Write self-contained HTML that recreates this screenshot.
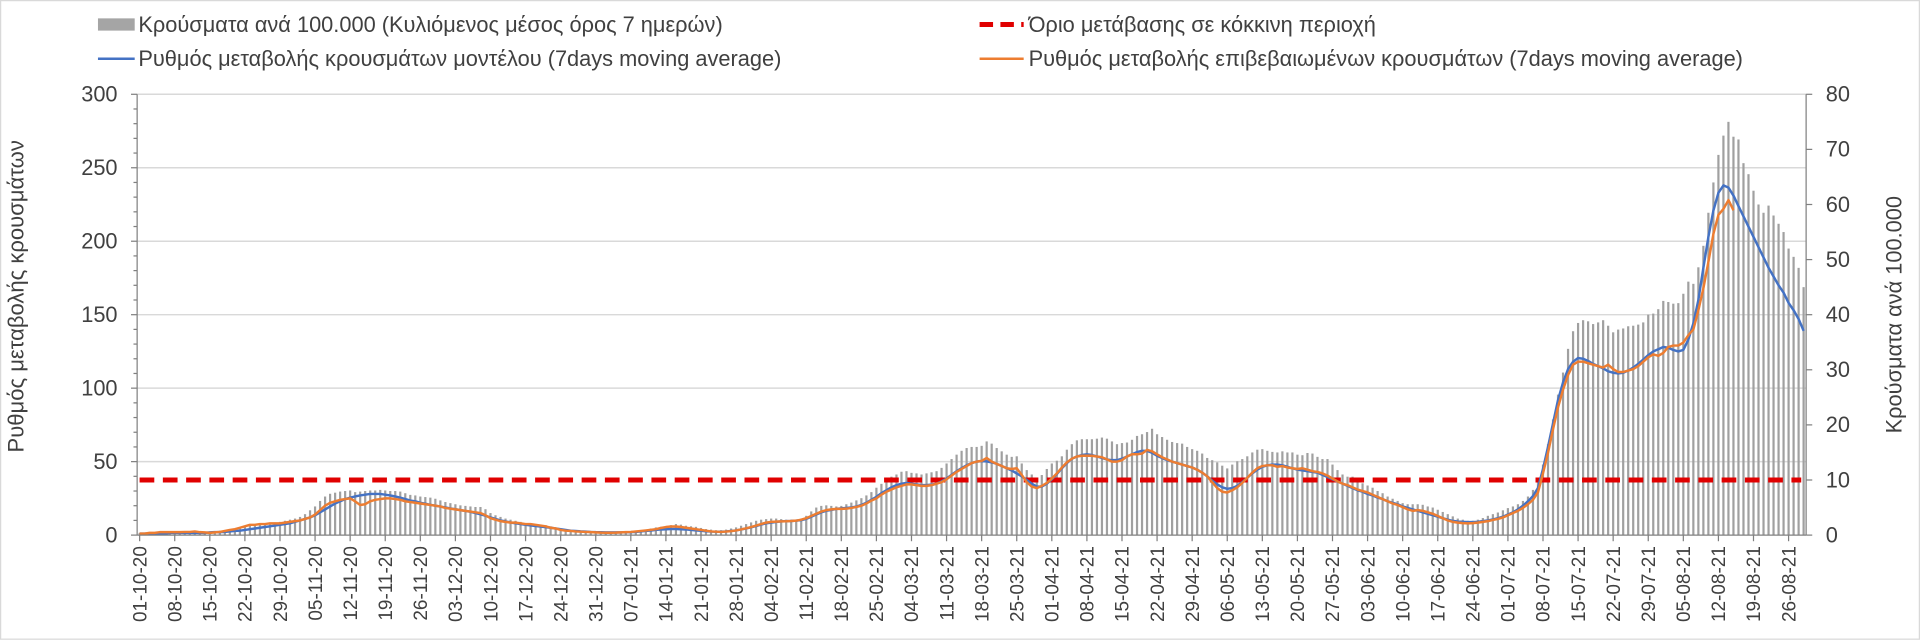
<!DOCTYPE html>
<html><head><meta charset="utf-8">
<style>
html,body{margin:0;padding:0;background:#fff;}
#wrap{position:relative;width:1920px;height:640px;overflow:hidden;font-family:"Liberation Sans",sans-serif;}
svg text{font-family:"Liberation Sans","DejaVu Sans",sans-serif;fill:#404040;}
</style></head>
<body>
<div id="wrap">
<svg id="chart" width="1920" height="640" viewBox="0 0 1568 522.67" preserveAspectRatio="none" xmlns="http://www.w3.org/2000/svg">
<rect x="0.5" y="0.5" width="1567" height="521.5" fill="#fff" stroke="#d9d9d9"/>
<g>
 <g><rect x="80" y="15" width="30" height="10" fill="#a5a5a5"/><text x="113" y="26" font-size="17.8">Κρούσματα ανά 100.000 (Κυλιόμενος μέσος όρος 7 ημερών)</text></g>
 <g><line x1="800" y1="20" x2="836" y2="20" stroke="#e00000" stroke-width="4" stroke-dasharray="11,6"/><text x="840" y="26" font-size="17.8">Όριο μετάβασης σε κόκκινη περιοχή</text></g>
 <g><line x1="80" y1="48" x2="110" y2="48" stroke="#4472c4" stroke-width="2"/><text x="113" y="54" font-size="17.8">Ρυθμός μεταβολής κρουσμάτων μοντέλου (7days moving average)</text></g>
 <g><line x1="800" y1="48" x2="836" y2="48" stroke="#ed7d31" stroke-width="2"/><text x="840" y="54" font-size="17.8">Ρυθμός μεταβολής επιβεβαιωμένων κρουσμάτων (7days moving average)</text></g>
</g>
<g id="grid"></g><g id="bars"></g><g id="lines"></g><g id="axes"></g>
<text transform="translate(19,242) rotate(-90)" text-anchor="middle" font-size="18">Ρυθμός μεταβολής κρουσμάτων</text>
<text transform="translate(1553,257) rotate(-90)" text-anchor="middle" font-size="17.8">Κρούσματα ανά 100.000</text>
</svg>
</div>
<script>
const startDate = [2020, 10, 1];
const leftTicks = [0,50,100,150,200,250,300];
const rightTicks = [0,10,20,30,40,50,60,70,80];
const threshold = [37.5];
const cases = [
.4,.4,.5,.5,.5,.6,.6, .6,.7,.7,.7,.7,.6,.6, .6,.7,.8,.9,1.0,1.1,1.3, 1.5,1.7,1.9,2.0,2.1,2.2,2.3,
2.4,2.6,2.8,3.0,3.3,3.8,4.5, 5.2,6.2,7.0,7.5,7.7,7.9,8.0, 8.1,7.8,7.9,8.0,8.1,8.1,8.2, 8.1,8.0,8.0,7.9,7.6,7.3,7.2,
7.0,6.9,6.8,6.6,6.3,6.0,5.8, 5.6,5.4,5.3,5.2,5.1,5.1,4.7, 4.0,3.6,3.3,3.0,2.8,2.6,2.4, 2.2,2.1,2.0,1.9,1.8,1.6,1.3,
1.0,.9,.8,.7,.6,.6,.5, .5,.4,.4,.4,.4,.5,.5, .6,.7,.8,1.0,1.2,1.4,1.5, 1.6,1.8,2.0,1.9,1.7,1.6,1.5,
1.3,1.1,1.0,.9,.9,1.0,1.2, 1.4,1.7,2.0,2.3,2.6,2.8,2.9, 3.0,3.0,2.9,2.8,2.8,2.8,3.0, 3.5,4.3,5.0,5.3,5.4,5.3,5.2,
5.3,5.6,5.9,6.3,6.7,7.2,7.8, 8.6,9.3,10.0,10.6,11.0,11.5,11.6, 11.3,11.2,11.0,11.2,11.4,11.6,12.2, 13.0,13.8,14.6,15.3,15.8,16.0,16.0,
16.2,17.0,16.6,15.8,15.2,14.6,14.2, 14.3,13.0,11.8,11.0,10.3,10.9,12.0, 13.0,13.5,14.3,15.5,16.5,17.2,17.4, 17.4,17.4,17.5,17.7,17.5,17.0,16.5,
16.7,16.8,17.3,18.0,18.3,18.7,19.3, 18.3,17.8,17.3,16.9,16.7,16.6,16.0, 15.6,15.3,14.8,14.0,13.6,13.2,12.6, 12.1,12.8,13.4,13.8,14.3,15.0,15.5,
15.6,15.3,15.1,15.0,15.2,15.0,15.0, 14.6,14.5,14.9,14.8,14.2,13.8,13.8, 12.8,11.8,11.0,10.6,10.6,9.9,9.4, 9.0,8.6,8.0,7.6,7.0,6.6,6.2,
5.8,5.6,5.6,5.6,5.5,5.2,5.0, 4.6,4.2,3.8,3.4,3.0,2.8,2.6, 2.6,2.8,3.1,3.5,3.8,4.1,4.5, 4.9,5.2,5.6,6.2,7.0,8.2,10.0,
12.8,16.5,21.0,25.5,29.5,33.8,37.0, 38.5,39.0,38.8,38.3,38.6,39.0,38.0, 36.8,37.3,37.5,37.9,38.0,38.2,38.6, 40.0,40.2,41.0,42.5,42.3,42.0,42.1,
43.8,46.0,45.6,48.6,52.5,58.5,64.0, 69.0,72.5,75.0,72.3,71.8,67.5,65.5, 62.5,60.0,58.5,59.8,58.0,56.5,55.0, 52.0,50.5,48.5,45.0];
const modelRate = [
1,1,1,1,1,1,1.5, 1.5,1.5,1.5,1.5,1.5,1.5,1.5, 1.8,2,2,2.2,2.5,2.8,3, 3.5,4,4.5,5,5.5,6,6.5,
7,7.5,8,9,10,11,12, 13.5,15.5,17.5,19.5,21.5,23,24.5, 25.5,26.3,27,27.5,28,28,28, 27.5,27,26.3,25.5,24.5,23.5,23,
22,21.3,20.6,20,19.4,18.8,18.2, 17.6,17,16.4,15.8,15,14.2,13.2, 12,11,10,9.3,8.6,8,7.5, 7,6.6,6.2,5.8,5.4,5,4.5,
4,3.5,3,2.8,2.6,2.4,2.2, 2,1.9,1.8,1.8,1.8,1.8,1.9, 2,2.2,2.5,2.8,3.1,3.5,3.8, 4,4.2,4.2,4,3.8,3.5,3.2,
2.9,2.6,2.4,2.3,2.3,2.5,2.8, 3.2,3.8,4.5,5.3,6.2,7.2,8, 8.5,9,9.3,9.5,9.6,9.8,10.2, 11,12.5,14,15.5,16.5,17.2,17.8,
18.2,18.5,18.8,19.4,20.5,22,24, 26,28.5,30.5,32.5,34,35,35.5, 35,34.5,34,34,34.3,35,36.5, 38.5,41,43.5,45.5,47.5,49,50,
50.3,50.2,49.5,48.5,47,45.5,44, 42,40,37.5,35,33,33,35, 38,41.5,45.5,49,52,53.5,54.5, 55,54.5,53.5,52.5,51.5,51,51,
52,53.5,55,56.5,57.3,57.3,56, 54,52.5,51,50,49,48,47, 46,44.5,42.5,40,37,34.5,32.5, 31.5,32,33.5,36,39,42,44.5,
46.5,47.5,48,48,47.5,46.5,45.5, 44.5,44,43.5,43,42.5,41,39.5, 38,36.5,35,33.5,32,30.5,29.5, 28,27,25.5,24.5,23,22,21,
19.5,18.5,17.5,16.5,15.5,14.5,13.5, 12.5,11.5,10.5,9.7,9.2,9,8.8, 8.8,9,9.5,10,10.7,11.5,12.5, 14,15.5,17.5,20,23,26.5,32,
45,60,76,92,104,113,118, 120.5,120,118.5,116.5,115,113.5,111.5, 110.5,110,110.5,112,114,116.5,119.5, 122.5,125,126.5,128,127.5,126,125,
126,133,144,160,182,203,221, 233,238,236.5,231,224,217,210, 203,196,189,182,176,170,165, 158,153,147,139];
const confirmedRate = [
1,1,1.5,1.5,2,2,2, 2,2,2.2,2.2,2.5,2,1.8, 1.5,1.8,2.2,2.8,3.5,4,5, 6,7,7,7.5,7.5,8,8,
8,8.5,9,9.5,10,11,12, 14,17,20,22,23,24,24.5, 25,23,20.5,21,23,24,24.5, 25,25,24.5,24,23,22.5,22,
21.5,21,20.5,20,19.5,18.5,18, 17.5,17,16.5,16,15.5,15,13.5, 11.5,10.5,9.5,9,8.5,8.5,8, 7.5,7.5,7,6.5,6,5,4.5,
3.5,3,2.8,2.5,2.3,2.2,2, 1.8,1.7,1.6,1.6,1.7,1.8,2, 2.2,2.5,2.8,3.2,3.6,4,4.8, 5.5,5.8,5.8,5.5,5,4.5,4,
3.5,3,2.5,2.3,2.2,2.4,2.7, 3.2,3.8,4.6,5.5,6.5,7.5,8.5, 9,9.2,9.3,9.4,9.6,9.8,10.5, 11.5,13,14.5,16,17,17.5,17.8,
17.8,18,18.5,19.2,20,21.5,23.5, 25,27.5,29.5,31,32.5,33.5,34.5, 34.5,34,33.5,33.5,34,35,36, 38,40.5,43,45,47,49,50,
50.5,52.5,50,48.5,47,45.5,45, 45.5,41,36,33,32,33.5,35.5, 38.5,42,46,49.5,52,53.5,54, 54,54,53.5,53,51.5,50,50,
51,53.5,55,55,55.5,58,57, 55,53,51.5,50,49,48,47, 46,44.5,42.5,40,36,32,29.5, 29,30.5,32.5,35.5,39,42.5,45.5,
47,47.5,47.5,46.5,47,46,45.5, 45,45.5,44.5,43.5,43,42,40.5, 38.5,36.5,35,34,32.5,31,30, 29,27.5,26,24.5,23,21.5,20.5,
19,17.5,16.5,17,16.5,15.5,14.5, 13,11.5,10,9,8.5,8.2,8, 8.2,8.5,9,9.5,10.3,11,12, 13.5,15,16.5,18.5,21,24,29,
42,56,72,87,99,109,116, 118,118,117,116,115,114,116, 113,111,111,112,113,115,118, 121,123,122,124,128,129,129,
131,136,140,153,168,186,205, 218,222,228,221];

const NS='http://www.w3.org/2000/svg';
const X0=112, X1=1475, YT=77, YB=437;
const N=cases.length;
const bw=(X1-X0)/N;
const xC=i=>X0+(i+0.5)*bw;
const yL=v=>YB-(v/300)*(YB-YT);
const yR=v=>YB-(v/80)*(YB-YT);
function mk(tag,attrs,parent){const e=document.createElementNS(NS,tag);for(const k in attrs)e.setAttribute(k,attrs[k]);parent.appendChild(e);return e;}
const grid=document.getElementById('grid'),barsG=document.getElementById('bars'),linesG=document.getElementById('lines'),axes=document.getElementById('axes');

leftTicks.forEach(t=>{
  if(t>0){const g=mk('line',{x1:X0,x2:X1,y1:yL(t),y2:yL(t),stroke:'#d9d9d9','stroke-width':1.2},grid);
  
  }
  const tx=mk('text',{x:96,y:yL(t)+6,'text-anchor':'end','font-size':17.8},axes);tx.textContent=t;
  
  
  mk('line',{x1:X0-5,x2:X0,y1:yL(t),y2:yL(t),stroke:'#808080'},axes);
});
for(let v=10;v<300;v+=10){if(v%50)mk('line',{x1:X0-3,x2:X0,y1:yL(v),y2:yL(v),stroke:'#808080'},axes);}
rightTicks.forEach(t=>{
  const tx=mk('text',{x:1491,y:yR(t)+6,'text-anchor':'start','font-size':17.8},axes);tx.textContent=t;
  
  
  mk('line',{x1:X1,x2:X1+5,y1:yR(t),y2:yR(t),stroke:'#808080'},axes);
});
mk('line',{x1:X0,x2:X0,y1:YT,y2:YB,stroke:'#808080'},axes);
mk('line',{x1:X1,x2:X1,y1:YT,y2:YB,stroke:'#808080'},axes);
mk('line',{x1:X0,x2:X1,y1:YB,y2:YB,stroke:'#808080'},axes);

cases.forEach((v,i)=>{
  const r=mk('rect',{x:xC(i)-0.9,y:yR(v),width:1.8,height:YB-yR(v),fill:'#a0a0a0'},barsG);
  
  
});
const th=mk('line',{x1:X0+2,x2:X1-4,y1:yL(threshold[0]),y2:yL(threshold[0]),stroke:'#e00000','stroke-width':4,'stroke-dasharray':'12,7'},linesG);


function path(arr){let d='';arr.forEach((v,i)=>{if(v==null)return;d+=(d?'L':'M')+xC(i).toFixed(1)+','+yL(v).toFixed(1);});return d;}
const pb=mk('path',{d:path(modelRate),fill:'none',stroke:'#4472c4','stroke-width':2,'stroke-linejoin':'round'},linesG);


const po=mk('path',{d:path(confirmedRate),fill:'none',stroke:'#ed7d31','stroke-width':2,'stroke-linejoin':'round'},linesG);



const base=new Date(startDate[0],startDate[1]-1,startDate[2]);
for(let i=0;i<N;i+=7){
  const d=new Date(base.getTime());d.setDate(base.getDate()+i);
  const s=String(d.getDate()).padStart(2,'0')+'-'+String(d.getMonth()+1).padStart(2,'0')+'-'+String(d.getFullYear()%100).padStart(2,'0');
  const x=xC(i);
  mk('line',{x1:x,x2:x,y1:YB,y2:YB+5,stroke:'#808080'},axes);
  const t=mk('text',{transform:`translate(${(x+5.5).toFixed(1)},${YB+9}) rotate(-90)`,'text-anchor':'end','font-size':15.5},axes);
  t.textContent=s;
  
  
}
</script>
</body></html>
